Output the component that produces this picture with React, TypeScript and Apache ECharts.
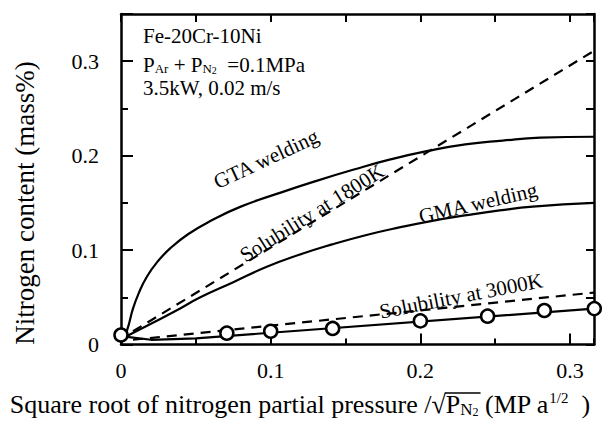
import React, { useEffect, useRef } from "react";
import * as echarts from "echarts";

// ---- data ----
const xTickLabels = ["0", "0.1", "0.2", "0.3"];
const yTickLabels = ["0", "0.1", "0.2", "0.3"];

const circleX = [0, 0.0707, 0.1, 0.1414, 0.2, 0.2449, 0.2828, 0.3162];
const circleY = [0.010, 0.012, 0.014, 0.017, 0.025, 0.030, 0.036, 0.038];

const fitX = [0.004, 0.02, 0.05, 0.316];
const fitY = [0.008, 0.005, 0.0065, 0.038];

const gtaX = [0.002, 0.005, 0.008, 0.012, 0.017, 0.024, 0.033, 0.045, 0.06, 0.08, 0.105, 0.13, 0.155, 0.18, 0.205, 0.23, 0.255, 0.28, 0.316];
const gtaY = [0.005, 0.020, 0.038, 0.055, 0.071, 0.087, 0.102, 0.117, 0.131, 0.146, 0.160, 0.173, 0.185, 0.196, 0.205, 0.212, 0.216, 0.219, 0.220];

const gmaX = [0.004, 0.02, 0.037, 0.053, 0.075, 0.097, 0.119, 0.141, 0.164, 0.186, 0.208, 0.231, 0.253, 0.275, 0.316];
const gmaY = [0.009, 0.022, 0.036, 0.050, 0.066, 0.082, 0.095, 0.106, 0.116, 0.124, 0.131, 0.137, 0.142, 0.146, 0.150];

const sol1800X = [0.008, 0.316];
const sol1800Y = [0.014, 0.311];

const sol3000X = [0.008, 0.316];
const sol3000Y = [0.005, 0.055];

const FONT = "'Liberation Serif', 'Times New Roman', serif";

const pairs = (xs: number[], ys: number[]) => xs.map((x, i) => [x, ys[i]]);

let measureCtx: CanvasRenderingContext2D | null = null;
const measure = (text: string, size: number) => {
  if (!measureCtx) measureCtx = document.createElement("canvas").getContext("2d");
  if (!measureCtx) return text.length * size * 0.5;
  measureCtx.font = `${size}px ${FONT}`;
  return measureCtx.measureText(text).width;
};

export default function App() {
  const ref = useRef<HTMLDivElement>(null);
  useEffect(() => {
    if (!ref.current) return;
    const chart = echarts.init(ref.current, null, { renderer: "svg" });
    const black = "#000";
    const axisLine = { show: true, onZero: false, lineStyle: { color: black, width: 2.5 } };
    const deg = Math.PI / 180;
    const labelStyle = (text: string, x: number, y: number, angle: number, size = 21) => ({
      type: "text",
      x,
      y,
      rotation: angle * deg,
      z: 100,
      style: {
        text,
        font: `${size}px ${FONT}`,
        fill: black,
        textAlign: "center",
        textVerticalAlign: "middle",
        align: "center",
        verticalAlign: "middle",
      },
    });

    // x-axis title segments
    const tN = 26, tS = 17, tT = 12, tU = 15;
    const seg1 = "Square root of nitrogen partial pressure /√";
    const seg2 = "P";
    const seg3 = "N";
    const seg4 = "2";
    const seg5 = " (MP a";
    const seg6 = "1/2";
    const seg7 = "  )";
    const w1 = measure(seg1, tN), w2 = measure(seg2, tN), w3 = measure(seg3, tS), w4 = measure(seg4, tT);
    const total = w1 + w2 + w3 + w4 + measure(seg5, tN) + measure(seg6, tU) + measure(seg7, tN);
    const titleX = 300 - total / 2;
    const titleY = 404;
    const vincStart = titleX + w1 - 1;
    const vincEnd = titleX + w1 + w2 + w3 + w4 + 2;

    const option: any = {
      animation: false,
      backgroundColor: "#fff",
      grid: { left: 121, top: 14, right: 9, bottom: 77.5, containLabel: false },
      xAxis: [
        {
          type: "value", min: 0, max: 0.316, interval: 0.1, position: "bottom",
          axisLine,
          axisTick: { show: true, inside: true, length: 11, lineStyle: { color: black, width: 2 } },
          axisLabel: {
            show: true, margin: 15, color: black, fontSize: 22, fontFamily: FONT,
            showMaxLabel: false,
            formatter: (v: number) => xTickLabels[Math.round(v * 10)] ?? "",
          },
          splitLine: { show: false },
        },
        {
          type: "value", min: 0, max: 0.316, interval: 0.05, position: "bottom",
          axisLine: { show: false, onZero: false },
          axisTick: { show: true, inside: true, length: 6, lineStyle: { color: black, width: 2 } },
          axisLabel: { show: false },
          splitLine: { show: false },
        },
        {
          type: "value", min: 0, max: 0.316, interval: 0.05, position: "top",
          axisLine,
          axisTick: { show: true, inside: true, length: 8, lineStyle: { color: black, width: 2 } },
          axisLabel: { show: false },
          splitLine: { show: false },
        },
      ],
      yAxis: [
        {
          type: "value", min: 0, max: 0.35, interval: 0.1, position: "left",
          axisLine,
          axisTick: { show: true, inside: true, length: 12, lineStyle: { color: black, width: 2 } },
          minorTick: { show: true, splitNumber: 2, length: 7, lineStyle: { color: black, width: 2 } },
          axisLabel: {
            show: true, margin: 22, color: black, fontSize: 22, fontFamily: FONT,
            showMaxLabel: false,
            formatter: (v: number) => yTickLabels[Math.round(v * 10)] ?? "",
          },
          splitLine: { show: false },
        },
        {
          type: "value", min: 0, max: 0.35, interval: 0.05, position: "right",
          axisLine,
          axisTick: { show: true, inside: true, length: 8, lineStyle: { color: black, width: 2 } },
          axisLabel: { show: false },
          splitLine: { show: false },
        },
      ],
      series: [
        {
          name: "GTA welding", type: "line", data: pairs(gtaX, gtaY), showSymbol: false,
          smooth: 0.5, lineStyle: { color: black, width: 2.2 }, z: 3,
        },
        {
          name: "GMA welding", type: "line", data: pairs(gmaX, gmaY), showSymbol: false,
          smooth: 0.5, lineStyle: { color: black, width: 2.2 }, z: 3,
        },
        {
          name: "Solubility at 1800K", type: "line", data: pairs(sol1800X, sol1800Y), showSymbol: false,
          lineStyle: { color: black, width: 2.2, type: [10, 7] }, z: 3,
        },
        {
          name: "Solubility at 3000K", type: "line", data: pairs(sol3000X, sol3000Y), showSymbol: false,
          lineStyle: { color: black, width: 2.2, type: [10, 7] }, z: 3,
        },
        {
          name: "Fit", type: "line", data: pairs(fitX, fitY), showSymbol: false,
          lineStyle: { color: black, width: 2.2 }, z: 3,
        },
        {
          name: "Measured", type: "scatter", data: pairs(circleX, circleY), symbol: "circle",
          symbolSize: 13, clip: false, z: 5,
          itemStyle: { color: "#fff", borderColor: black, borderWidth: 2.5, opacity: 1 },
        },
      ],
      graphic: [
        {
          type: "text", x: 143, y: 36, z: 100,
          style: { text: "Fe-20Cr-10Ni", font: `21px ${FONT}`, fill: black, textVerticalAlign: "middle", verticalAlign: "middle" },
        },
        {
          type: "text", x: 143, y: 63, z: 100,
          style: {
            text: "{n|P}{s|Ar}{n| + P}{s|N}{t|2}{n|  =0.1MPa}",
            fill: black,
            textVerticalAlign: "middle", verticalAlign: "middle",
            rich: {
              n: { fontSize: 21, fontFamily: FONT, fill: black, color: black, verticalAlign: "bottom", lineHeight: 24 },
              s: { fontSize: 13, fontFamily: FONT, fill: black, color: black, verticalAlign: "bottom", lineHeight: 21 },
              t: { fontSize: 10, fontFamily: FONT, fill: black, color: black, verticalAlign: "bottom", lineHeight: 19 },
            },
          },
        },
        {
          type: "text", x: 143, y: 88, z: 100,
          style: { text: "3.5kW, 0.02 m/s", font: `21px ${FONT}`, fill: black, textVerticalAlign: "middle", verticalAlign: "middle" },
        },
        labelStyle("GTA welding", 266, 159, 25),
        labelStyle("Solubility at 1800K", 312, 213, 32),
        labelStyle("GMA welding", 478, 203, 13),
        labelStyle("Solubility at 3000K", 461, 296, 11),
        {
          type: "text", x: 25, y: 203, rotation: 90 * deg, z: 100,
          style: {
            text: "Nitrogen content (mass%)", font: `27px ${FONT}`, fill: black,
            textAlign: "center", textVerticalAlign: "middle", align: "center", verticalAlign: "middle",
          },
        },
        {
          type: "text", x: titleX, y: titleY, z: 100,
          style: {
            text: `{n|${seg1}}{n|${seg2}}{s|${seg3}}{t|${seg4}}{n|${seg5}}{u|${seg6}}{n|${seg7}}`,
            fill: black,
            textAlign: "left", textVerticalAlign: "middle", align: "left", verticalAlign: "middle",
            rich: {
              n: { fontSize: tN, fontFamily: FONT, fill: black, color: black, verticalAlign: "bottom", lineHeight: 27 },
              s: { fontSize: tS, fontFamily: FONT, fill: black, color: black, verticalAlign: "bottom", lineHeight: 21 },
              t: { fontSize: tT, fontFamily: FONT, fill: black, color: black, verticalAlign: "bottom", lineHeight: 16 },
              u: { fontSize: tU, fontFamily: FONT, fill: black, color: black, verticalAlign: "top", lineHeight: 15 },
            },
          },
        },
        {
          type: "line", z: 100,
          shape: { x1: vincStart, y1: titleY - 11, x2: vincEnd, y2: titleY - 11 },
          style: { stroke: black, lineWidth: 1.3 },
        },
      ],
    };
    chart.setOption(option);
    return () => chart.dispose();
  }, []);
  return (
    <div
      ref={ref}
      style={{ position: "fixed", left: 0, top: 0, width: 603, height: 422, background: "#fff" }}
    />
  );
}
